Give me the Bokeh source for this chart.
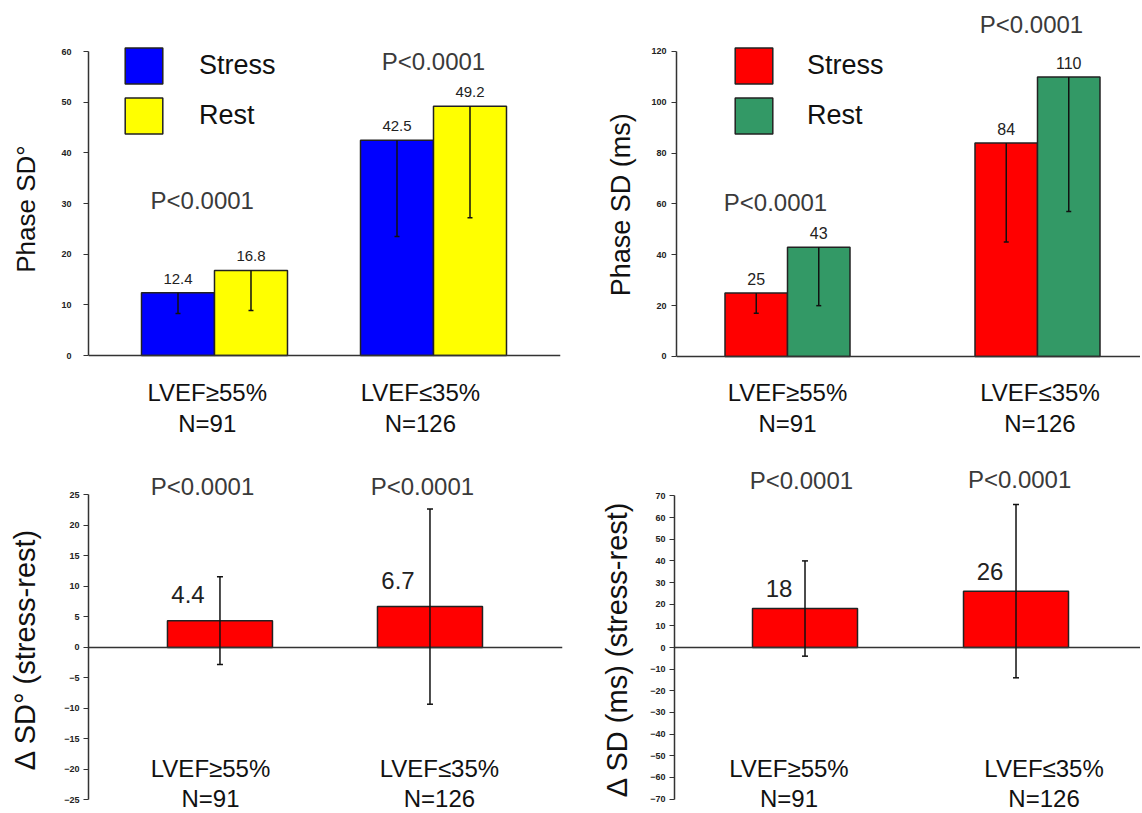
from bokeh.plotting import figure
from bokeh.layouts import column, row
from bokeh.models import (ColumnDataSource, Range1d, Span, Whisker, TeeHead,
                          Legend, LegendItem, FixedTicker)
from bokeh.core.properties import value
from bokeh.embed import file_html
from bokeh.resources import INLINE

FONT = "Liberation Sans"
NB = "\u00a0"  # non-breaking space, used only to nudge axis-label centring

# ---------------- data ----------------
group_labels = ["LVEF≥55%\nN=91", "LVEF≤35%\nN=126"]
group_pos = [1, 2]
series_names = ["Stress", "Rest"]
p_values = ["P<0.0001", "P<0.0001"]

deg_stress = [12.4, 42.5]
deg_stress_sd = [4.1, 19.0]
deg_rest = [16.8, 49.2]
deg_rest_sd = [7.9, 22.0]

ms_stress = [25, 84]
ms_stress_sd = [8, 39]
ms_rest = [43, 110]
ms_rest_sd = [23, 53]

delta_deg = [4.4, 6.7]
delta_deg_sd = [7.2, 16.0]
delta_ms = [18, 26]
delta_ms_sd = [22, 40]

deg_ticks = list(range(0, 61, 10))
ms_ticks = list(range(0, 121, 20))
delta_deg_ticks = list(range(-25, 26, 5))
delta_ms_ticks = list(range(-70, 71, 10))


def base_fig(width, height, xr, yr, border_left, border_right, ylabel,
             label_size, bounds, ticks, tick_size, tick_standoff, label_standoff):
    p = figure(width=width, height=height, x_range=Range1d(*xr), y_range=Range1d(*yr),
               output_backend="svg", toolbar_location=None, x_axis_location=None,
               min_border_left=border_left, min_border_right=border_right,
               min_border_top=0, min_border_bottom=0, outline_line_color=None,
               background_fill_color="white", border_fill_color="white")
    for g in p.grid:
        g.visible = False
    ax = p.yaxis[0]
    ax.bounds = bounds
    ax.ticker = FixedTicker(ticks=ticks)
    ax.minor_tick_line_color = None
    ax.major_tick_in = 0
    ax.major_tick_out = 5
    ax.axis_line_color = "#333333"
    ax.axis_line_width = 1.5
    ax.major_tick_line_color = "#333333"
    ax.major_tick_line_width = 1.2
    ax.major_label_text_font = FONT
    ax.major_label_text_font_size = tick_size
    ax.major_label_text_font_style = "bold"
    ax.major_label_text_color = "#222222"
    ax.major_label_standoff = tick_standoff
    ax.axis_label = ylabel
    ax.axis_label_text_font = FONT
    ax.axis_label_text_font_size = label_size
    ax.axis_label_text_font_style = "normal"
    ax.axis_label_text_color = "#111111"
    ax.axis_label_standoff = label_standoff
    p.add_layout(Span(location=0, dimension="width", line_color="#333333", line_width=1.5))
    return p


def add_text(p, xs, ys, texts, size, color="#222222", baseline="middle", line_height=1.2):
    src = ColumnDataSource(dict(x=xs, y=ys, t=texts))
    p.text(x="x", y="y", text="t", source=src, text_font=value(FONT),
           text_font_size=size, text_align="center", text_baseline=baseline,
           text_color=color, text_line_height=line_height)


def grouped_panel(width, height, xr, yr, bl, br, ylabel, label_size, bounds, ticks,
                  tick_size, tick_standoff, label_standoff, bar_w,
                  stress, stress_sd, rest, rest_sd, colors, fmt, val_size,
                  p_x, p_y, cat_x, cat_y, legend_loc, legend_standoff):
    p = base_fig(width, height, xr, yr, bl, br, ylabel, label_size, bounds, ticks,
                 tick_size, tick_standoff, label_standoff)
    renderers = []
    for k, (vals, sds) in enumerate([(stress, stress_sd), (rest, rest_sd)]):
        offset = (-0.5 if k == 0 else 0.5) * bar_w
        src = ColumnDataSource(dict(
            x=[g + offset for g in group_pos], top=vals,
            low=[v - s for v, s in zip(vals, sds)],
            label=[fmt(v) for v in vals]))
        r = p.vbar(x="x", top="top", bottom=0, width=bar_w, source=src,
                   fill_color=colors[k], line_color="#222222", line_width=1.5)
        renderers.append(r)
        p.add_layout(Whisker(source=src, base="x", upper="top", lower="low",
                             upper_head=None,
                             lower_head=TeeHead(size=5, line_width=1.5, line_color="#111111"),
                             line_color="#111111", line_width=1.5, level="overlay"))
        p.text(x="x", y="top", text="label", source=src, text_font=value(FONT),
               text_font_size=val_size, text_align="center", text_baseline="alphabetic",
               y_offset=-14, text_color="#222222")
    add_text(p, p_x, p_y, p_values, "24px", color="#3a3a3a")
    add_text(p, cat_x, cat_y, group_labels, "24px", color="#111111", line_height=1.15)
    legend = Legend(items=[LegendItem(label=series_names[i], renderers=[renderers[i]]) for i in range(2)],
                    location=legend_loc, glyph_width=47, glyph_height=45, label_height=45,
                    label_text_font=FONT, label_text_font_size="27px", label_text_color="#111111",
                    label_standoff=legend_standoff, spacing=5, padding=0, margin=0,
                    border_line_alpha=0, background_fill_alpha=0)
    p.add_layout(legend)
    return p


def delta_panel(width, height, xr, yr, bl, br, ylabel, label_size, bounds, ticks,
                tick_size, tick_standoff, label_standoff, bar_w, vals, sds, fmt,
                val_dx, val_dy, p_x, p_y, cat_x, cat_y):
    p = base_fig(width, height, xr, yr, bl, br, ylabel, label_size, bounds, ticks,
                 tick_size, tick_standoff, label_standoff)
    src = ColumnDataSource(dict(
        x=group_pos, top=vals,
        low=[v - s for v, s in zip(vals, sds)],
        up=[v + s for v, s in zip(vals, sds)],
        label=[fmt(v) for v in vals]))
    p.vbar(x="x", top="top", bottom=0, width=bar_w, source=src,
           fill_color="#ff0000", line_color="#222222", line_width=1.5)
    p.add_layout(Whisker(source=src, base="x", upper="up", lower="low",
                         upper_head=TeeHead(size=6, line_width=1.5, line_color="#111111"),
                         lower_head=TeeHead(size=6, line_width=1.5, line_color="#111111"),
                         line_color="#111111", line_width=1.5, level="overlay"))
    p.text(x="x", y="top", text="label", source=src, text_font=value(FONT),
           text_font_size="24px", text_align="center", text_baseline="alphabetic",
           x_offset=val_dx, y_offset=val_dy, text_color="#222222")
    add_text(p, p_x, p_y, p_values, "24px", color="#3a3a3a")
    add_text(p, cat_x, cat_y, group_labels, "24px", color="#111111", line_height=1.1)
    return p


fmt1 = lambda v: f"{v:.1f}"
fmt0 = lambda v: f"{v:g}"

p1 = grouped_panel(576, 446, (0.4247, 2.5799), (-17.96, 70.07), 88, 16,
                   NB * 4 + "Phase SD°", "26px", (0, 60), deg_ticks, "9px", 12, 17, 0.3333,
                   deg_stress, deg_stress_sd, deg_rest, deg_rest_sd,
                   ["#0000ff", "#ffff00"], fmt1, "15px",
                   [0.944, 2.0], [30.6, 58.0], [0.967, 1.94], [-10.3, -10.3], (32, 308), 32)

p2 = grouped_panel(564, 446, (0.556, 2.412), (-35.41, 140.06), 100, 0,
                   NB * 5 + "Phase SD (ms)", "27px", (0, 120), ms_ticks, "9px", 5, 12, 0.25,
                   ms_stress, ms_stress_sd, ms_rest, ms_rest_sd,
                   ["#ff0000", "#339966"], fmt0, "16px",
                   [0.952, 1.976], [60.6, 130.6], [1.0, 2.01], [-20.1, -20.1], (54, 308), 30)

p3 = delta_panel(576, 365, (0.374, 2.631), (-26.89, 32.95), 88, 14,
                 "Δ SD° (stress-rest)" + NB * 5, "29px", (-25, 25), delta_deg_ticks, "9px", 4, 20,
                 0.5, delta_deg, delta_deg_sd, fmt1, -32, -26,
                 [0.917, 1.964], [26.4, 26.4], [0.955, 2.045], [-22.3, -22.3])

p4 = delta_panel(564, 365, (0.3815, 2.59), (-75.75, 92.84), 98, 0,
                 "Δ SD (ms) (stress-rest)" + NB * 5, "29px", (-70, 70), delta_ms_ticks, "9px", 4, 14,
                 0.4976, delta_ms, delta_ms_sd, fmt0, -26, -20,
                 [0.983, 2.017], [77.1, 77.4], [0.924, 2.133], [-62.8, -62.8])

layout = column(row(p1, p2, spacing=0), row(p3, p4, spacing=0), spacing=0)

open("out.html", "w").write(file_html(layout, INLINE))
